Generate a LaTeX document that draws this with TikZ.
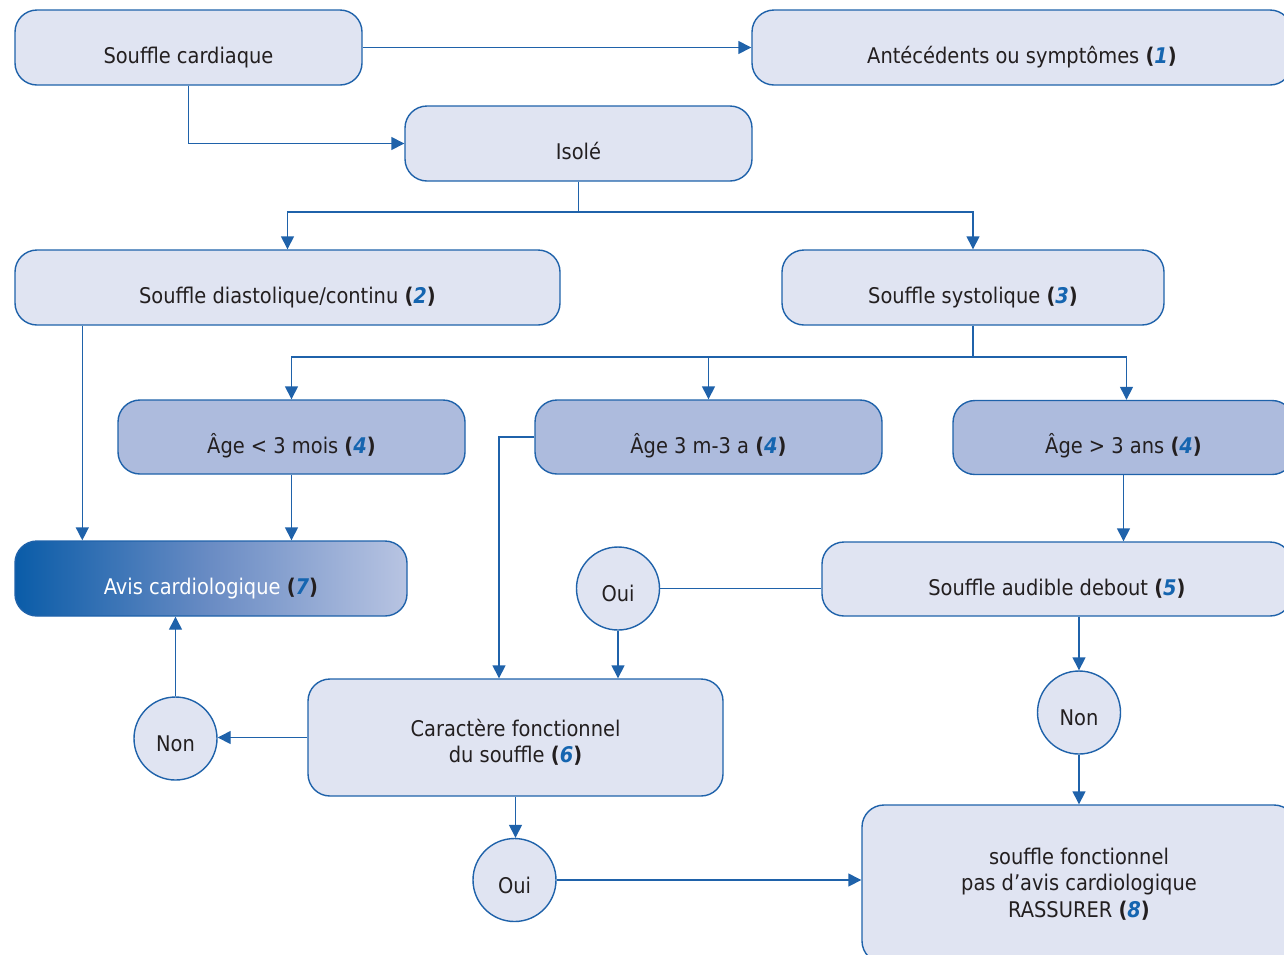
\documentclass[tikz,border=0pt]{standalone}
\usepackage{fontspec}
\setmainfont{DejaVu Sans Condensed}
\usetikzlibrary{arrows.meta,shapes,positioning}

\definecolor{cadre}{HTML}{1F62AA}
\definecolor{clair}{HTML}{E0E4F2}
\definecolor{fonce}{HTML}{ADBBDD}
\definecolor{chiffre}{HTML}{1565B0}
\definecolor{texte}{HTML}{231F20}
\definecolor{avisg}{HTML}{0A5CA8}
\definecolor{avism}{HTML}{6A8CC4}
\definecolor{avisd}{HTML}{B8C4E2}

\newcommand{\renvoi}[1]{\textbf{\textcolor{texte}{(}\textcolor{chiffre}{\textit{#1}}\textcolor{texte}{)}}}

\begin{document}
\begin{tikzpicture}[x=1pt,y=-1pt,>={Triangle[length=13pt,width=13pt]},font=\fontsize{21.6}{26.5}\selectfont,line width=1.4pt]

  \tikzstyle{boite}=[rectangle,rounded corners=22pt,draw=cadre,fill=clair,text=texte,align=center]
  \tikzstyle{haut}=[text height=32pt,text depth=0pt]
  \tikzstyle{age}=[boite,haut,fill=fonce,minimum height=74pt]
  \tikzstyle{rep}=[circle,draw=cadre,fill=clair,text=texte,text height=26pt,text depth=0pt,minimum size=83pt,inner sep=0pt]
  \tikzstyle{fleche}=[->,draw=cadre]

  \useasboundingbox (0,0) rectangle (1284,954);
  \clip (0,0) rectangle (1284,954);

  % ligne du haut
  \node [boite,haut,minimum width=347pt,minimum height=75pt] (sc) at (188.5,47.5) {Souffle cardiaque};
  \node [boite,haut,minimum width=540pt,minimum height=75pt] (ant) at (1022,47.5) {Antécédents ou symptômes \renvoi{1}};
  \node [boite,haut,minimum width=347pt,minimum height=75pt] (iso) at (578.5,143.5) {Isolé};

  \node [boite,haut,minimum width=545pt,minimum height=75pt] (dia) at (287.5,287.5) {Souffle diastolique/continu \renvoi{2}};
  \node [boite,haut,minimum width=382pt,minimum height=75pt] (sys) at (973,287.5) {Souffle systolique \renvoi{3}};

  % tranches d'age
  \node [age,minimum width=347pt] (age1) at (291.5,437) {Âge < 3 mois \renvoi{4}};
  \node [age,minimum width=347pt] (age2) at (708.5,437) {Âge 3 m-3 a \renvoi{4}};
  \node [age,minimum width=341pt] (age3) at (1123.5,437.5) {Âge > 3 ans \renvoi{4}};

  \node [boite,haut,draw=cadre,left color=avisg,right color=avisd,middle color=avism,text=white,minimum width=392pt,minimum height=75pt] (avis) at (211,578.5) {Avis cardiologique \renvoi{7}};
  \node [boite,haut,minimum width=470pt,minimum height=74pt] (aud) at (1057,579) {Souffle audible debout \renvoi{5}};
  \node [rep] (oui1) at (618,588.5) {Oui};

  \node [boite,text height=52pt,text depth=2pt,minimum width=415pt,minimum height=117pt] (car) at (515.5,737.5) {Caractère fonctionnel\\du souffle \renvoi{6}};
  \node [rep] (non1) at (175.5,738.5) {Non};
  \node [rep] (non2) at (1079,712.5) {Non};
  \node [rep] (oui2) at (514.5,880) {Oui};
  \node [boite,minimum width=434pt,minimum height=158pt] (ras) at (1079,884) {souffle fonctionnel\\pas d’avis cardiologique\\RASSURER \renvoi{8}};

  \coordinate (fourche1) at (578.5,212);
  \coordinate (fourche2) at (973,357);
  \coordinate (coude) at (499,437);

  % liaisons
  \draw [fleche] (sc.east) -- (ant.west);
  \draw [fleche] (sc.south) |- (iso.west);
  \draw [cadre] (iso.south) -- (fourche1);
  \draw [fleche] (fourche1) -| (dia.north);
  \draw [fleche] (fourche1) -| (sys.north);
  \draw [cadre] (sys.south) -- (fourche2);
  \draw [fleche] (fourche2) -| (age1.north);
  \draw [fleche] (fourche2) -| (age2.north);
  \draw [fleche] (fourche2) -| ([xshift=3pt]age3.north);
  \draw [fleche] ([xshift=68pt]dia.south west) -- ([xshift=68pt]avis.north west);
  \draw [fleche] (age1.south) -- (age1.south |- avis.north);
  \draw [fleche] (age2.west) -- (coude) -- (coude |- car.north);
  \draw [fleche] (age3.south) -- (age3.south |- aud.north);
  \draw [cadre] (oui1.east) -- (oui1.east -| aud.west);
  \draw [fleche] (oui1.south) -- (oui1.south |- car.north);
  \draw [fleche] (car.west) -- (car.west -| non1.east);
  \draw [fleche] (non1.north) -- (non1.north |- avis.south);
  \draw [fleche] (car.south) -- (car.south |- oui2.north);
  \draw [fleche] (oui2.east) -- (oui2.east -| ras.west);
  \draw [fleche] (non2.north |- aud.south) -- (non2.north);
  \draw [fleche] (non2.south) -- (ras.north);
\end{tikzpicture}
\end{document}
